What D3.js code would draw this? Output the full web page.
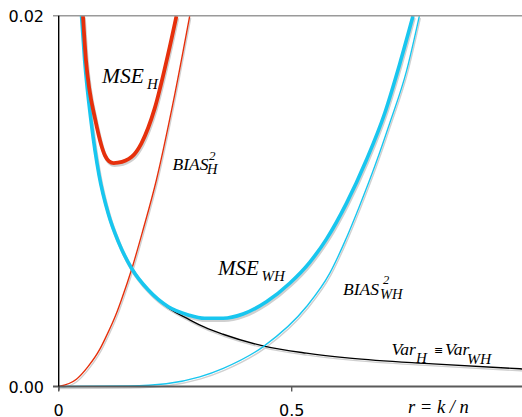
<!DOCTYPE html>
<html>
<head>
<meta charset="utf-8">
<script src="https://cdn.jsdelivr.net/npm/d3@7"></script>
<style>
  body { margin: 0; background: #fff; }
  svg { display: block; }
  .tick-label { font-family: "DejaVu Sans", sans-serif; font-size: 16px; fill: #000; }
  .lab { font-family: "Liberation Serif", "Times New Roman", serif; font-style: italic; fill: #000; }
</style>
</head>
<body>
<script>
// values, y in units of 0.001
var varR   = [0.049, 0.0557, 0.070, 0.0866, 0.1066, 0.1281, 0.1569, 0.1924, 0.235, 0.281, 0.313, 0.3526, 0.4406, 0.5315, 0.6245, 0.803, 1.0];
var varV   = [20.0, 17.6, 14.2, 11.4, 9.3, 7.8, 6.35, 5.2, 4.25, 3.6, 3.2, 2.82, 2.18, 1.80, 1.53, 1.22, 0.94];

var mseWhR = [0.049, 0.0557, 0.070, 0.0866, 0.1066, 0.1281, 0.1569, 0.1924, 0.2352, 0.278, 0.313, 0.3526, 0.3955, 0.4457, 0.4957, 0.5386, 0.5745, 0.6174, 0.6603, 0.6996, 0.7318, 0.7603];
var mseWhV = [20.0, 17.6, 14.2, 11.4, 9.3, 7.8, 6.35, 5.2, 4.30, 3.86, 3.68, 3.68, 3.91, 4.57, 5.57, 6.7, 7.95, 9.88, 12.22, 14.74, 17.4, 19.98];

var biasWhR = [0, 0.15, 0.231, 0.3026, 0.3532, 0.4406, 0.5315, 0.5815, 0.6137, 0.645, 0.68, 0.7103, 0.7462, 0.7739];
var biasWhV = [0, 0.03, 0.15, 0.52, 0.98, 2.18, 4.3, 6.1, 7.8, 9.7, 12.0, 14.2, 17.0, 19.98];

var mseHR  = [0.052, 0.0585, 0.066, 0.0775, 0.0916, 0.0994, 0.108, 0.118, 0.127, 0.1567, 0.1775, 0.206, 0.2345, 0.2526];
var mseHV  = [20.0, 17.6, 16.0, 14.5, 13.0, 12.45, 12.15, 12.05, 12.07, 12.39, 13.12, 15.0, 17.9, 19.98];

var biasHR = [0, 0.038, 0.0629, 0.088, 0.100, 0.124, 0.1345, 0.1573, 0.1809, 0.2097, 0.2453, 0.2811];
var biasHV = [0, 0.39, 1.07, 2.0, 2.6, 3.95, 4.67, 6.38, 8.44, 11.14, 15.28, 19.98];

var xTicks = [0, 0.5];
var xTickLabels = ["0", "0.5"];
var yTicks = [0, 0.02];
var yTickLabels = ["0.00", "0.02"];

var W = 522, H = 417;
var x = d3.scaleLinear().domain([0, 1]).range([58.7, 524.7]);
var y = d3.scaleLinear().domain([0, 0.02]).range([386.5, 15.7]);

var svg = d3.select("body").append("svg").attr("width", W).attr("height", H);

svg.append("clipPath").attr("id", "plot")
  .append("rect").attr("x", 58).attr("y", 15.7).attr("width", 470).attr("height", 374);

function pts(rs, vs) { return rs.map(function (r, i) { return [r, vs[i] / 1000]; }); }

var line = d3.line()
  .x(function (d) { return x(d[0]); })
  .y(function (d) { return y(d[1]); })
  .curve(d3.curveMonotoneX);

var series = [
  { d: pts(varR, varV), color: "#000", w: 1.4 },
  { d: pts(biasWhR, biasWhV), color: "#18c6ef", w: 1.4 },
  { d: pts(biasHR, biasHV), color: "#e6300c", w: 1.4 },
  { d: pts(mseWhR, mseWhV), color: "#18c6ef", w: 3.6 },
  { d: pts(mseHR, mseHV), color: "#e6300c", w: 3.8 }
];

var g = svg.append("g").attr("clip-path", "url(#plot)");

// shadows
g.selectAll(".shadow").data(series).enter().append("path")
  .attr("class", "shadow")
  .attr("d", function (s) { return line(s.d); })
  .attr("transform", "translate(1,2)")
  .attr("fill", "none")
  .attr("stroke", "#d0d0d0")
  .attr("stroke-width", function (s) { return s.w; });

g.selectAll(".curve").data(series).enter().append("path")
  .attr("class", "curve")
  .attr("d", function (s) { return line(s.d); })
  .attr("fill", "none")
  .attr("stroke", function (s) { return s.color; })
  .attr("stroke-width", function (s) { return s.w; });

// frame
svg.append("line").attr("x1", 53).attr("x2", W).attr("y1", y(0.02)).attr("y2", y(0.02))
  .attr("stroke", "#9a9a9a").attr("stroke-width", 1.5);
svg.append("line").attr("x1", 53).attr("x2", W).attr("y1", y(0)).attr("y2", y(0))
  .attr("stroke", "#5a5a5a").attr("stroke-width", 2);
svg.append("line").attr("x1", x(0)).attr("x2", x(0)).attr("y1", y(0.02)).attr("y2", y(0) + 4)
  .attr("stroke", "#000").attr("stroke-width", 1.4);

svg.selectAll(".xt").data(xTicks).enter().append("line")
  .attr("x1", function (d) { return x(d); }).attr("x2", function (d) { return x(d); })
  .attr("y1", y(0)).attr("y2", y(0) + 5)
  .attr("stroke", "#5a5a5a").attr("stroke-width", 1.4);

svg.selectAll(".xl").data(xTicks).enter().append("text")
  .attr("class", "tick-label")
  .attr("x", function (d) { return x(d); })
  .attr("y", 416)
  .attr("text-anchor", "middle")
  .text(function (d, i) { return xTickLabels[i]; });

svg.selectAll(".yl").data(yTicks).enter().append("text")
  .attr("class", "tick-label")
  .attr("x", 44)
  .attr("y", function (d) { return y(d) + 6; })
  .attr("text-anchor", "end")
  .text(function (d, i) { return yTickLabels[i]; });

// labels
function lab(px, py, size, txt) {
  svg.append("text").attr("class", "lab").attr("x", px).attr("y", py)
    .style("font-size", size + "px").text(txt);
}
lab(102, 83, 21.5, "MSE");
lab(147, 89, 15, "H");

lab(172.5, 169.5, 17.5, "BIAS");
lab(209, 159.5, 13, "2");
lab(207, 173.5, 14.5, "H");

lab(218, 275, 21, "MSE");
lab(261.5, 281, 15, "WH");

lab(343, 295, 17.5, "BIAS");
lab(383, 284, 12.5, "2");
lab(380, 298.5, 14.5, "WH");

lab(391.5, 355, 17.5, "Var");
lab(416, 363, 15, "H");
svg.append("text").attr("x", 434).attr("y", 354)
  .style("font-family", "DejaVu Sans, sans-serif").style("font-size", "11px").text("\u2261");
lab(445, 355, 17.5, "Var");
lab(467, 364, 15.5, "WH");

lab(408, 413, 18.5, "r = k / n");
</script>
</body>
</html>
